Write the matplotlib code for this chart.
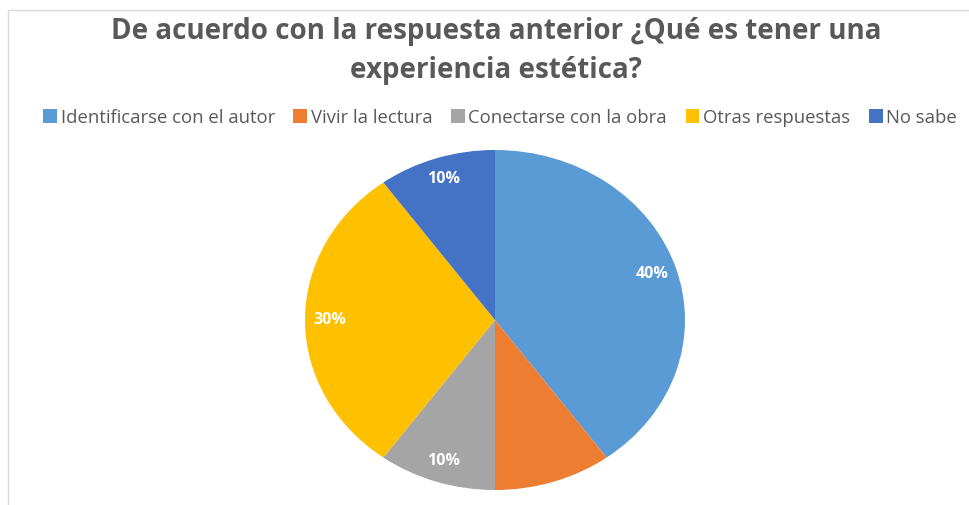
import numpy as np
import matplotlib.pyplot as plt
from matplotlib.patches import Rectangle

categorias = ["Identificarse con el autor", "Vivir la lectura",
              "Conectarse con la obra", "Otras respuestas", "No sabe"]
porcentajes = [40, 10, 10, 30, 10]
etiquetas = ["40%", "", "10%", "30%", "10%"]  # orange slice has no label
colores = ["#5B9BD5", "#ED7D31", "#A5A5A5", "#FFC000", "#4472C4"]

fig = plt.figure(figsize=(9.69, 5.05), dpi=100)

# chart area border (only top/left visible in the crop)
fig.patches.append(Rectangle((8 / 969, -0.2), 1.2, 1.2 - 10 / 505,
                             transform=fig.transFigure, fill=False,
                             edgecolor="#D9D9D9", linewidth=1.0))

ax = fig.add_axes([305 / 969, 15 / 505, 380 / 969, 340 / 505])
cuñas, textos = ax.pie(porcentajes, colors=colores, startangle=90,
                       counterclock=False,
                       wedgeprops=dict(linewidth=0))
ax.set_aspect("auto")
ax.set_xlim(-1, 1)
ax.set_ylim(-1, 1)

for w, txt in zip(cuñas, etiquetas):
    ang = np.deg2rad((w.theta1 + w.theta2) / 2)
    ax.text(0.87 * np.cos(ang), 0.87 * np.sin(ang), txt, ha="center",
            va="center", color="white", fontsize=11.5, fontweight="bold",
            family="Open Sans")

fig.text(0.512, 0.899, "De acuerdo con la respuesta anterior ¿Qué es tener una\nexperiencia estética?",
         ha="center", va="center", fontsize=20, fontweight="bold",
         color="#595959", family="Open Sans", linespacing=1.42)

leg = fig.legend(cuñas, categorias, loc="center", bbox_to_anchor=(0.516, 0.767),
                 ncol=5, frameon=False, handlelength=0.75,
                 handleheight=0.75, handletextpad=0.2, columnspacing=1.0,
                 prop=dict(family="Open Sans", size=13.3))
for t in leg.get_texts():
    t.set_color("#595959")

fig.savefig("out.png", dpi=100)
